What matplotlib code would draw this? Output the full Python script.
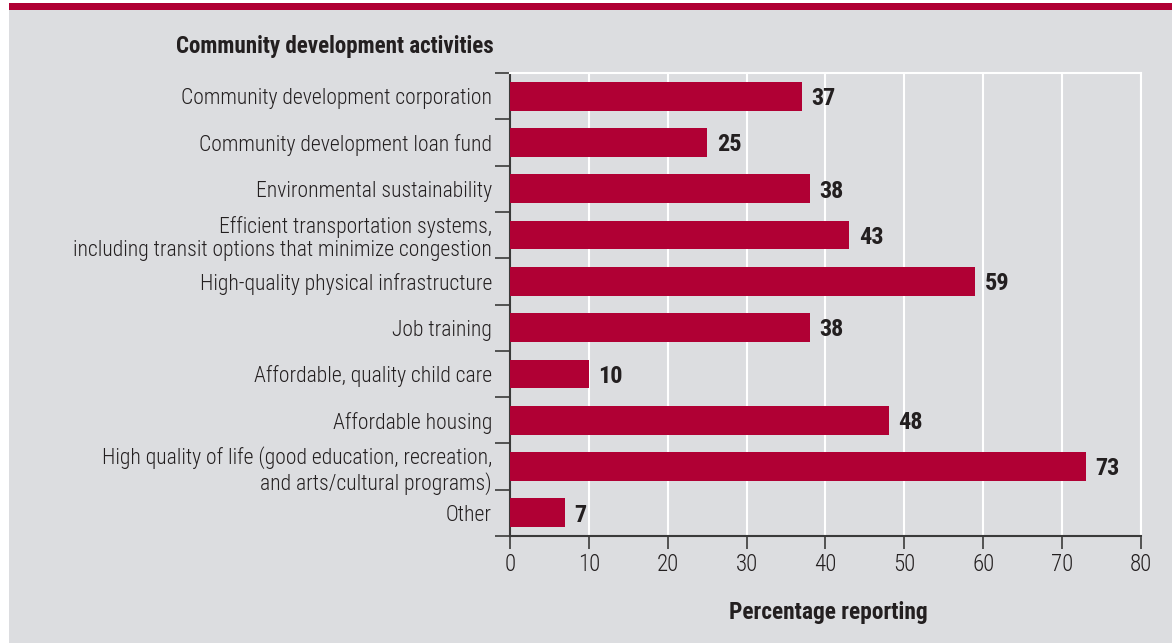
import matplotlib
matplotlib.use("Agg")
import matplotlib.pyplot as plt
from matplotlib.patches import Rectangle
from matplotlib import font_manager

categories = [
    "Community development corporation",
    "Community development loan fund",
    "Environmental sustainability",
    "Efficient transportation systems,\nincluding transit options that minimize congestion",
    "High-quality physical infrastructure",
    "Job training",
    "Affordable, quality child care",
    "Affordable housing",
    "High quality of life (good education, recreation,\nand arts/cultural programs)",
    "Other",
]
values = [37, 25, 38, 43, 59, 38, 10, 48, 73, 7]
xticks = [0, 10, 20, 30, 40, 50, 60, 70, 80]

# pick a condensed face if one exists
entries = font_manager.fontManager.ttflist
cond = [f.name for f in entries
        if ("Condensed" in f.name or "Narrow" in f.name)]
stretch_cond = [f.name for f in entries
                if str(f.stretch) in ("condensed", "semi-condensed", "extra-condensed") or
                (isinstance(f.stretch, int) and f.stretch < 500)]
fam = None
stretch = "normal"
for pref in ["Roboto Condensed", "Liberation Sans Narrow", "Open Sans Condensed", "Noto Sans Condensed"]:
    if pref in cond:
        fam = pref
        break
if fam is None and cond:
    fam = cond[0]
if fam is None and stretch_cond:
    fam = stretch_cond[0]
    stretch = "condensed"
if fam is None:
    fam = "Roboto"
plt.rcParams['font.family'] = [fam, 'DejaVu Sans']
plt.rcParams['font.stretch'] = stretch

BG = "#dcdde0"
RED = "#b00034"
TXT = "#231f20"
W, H = 1172, 643

fig = plt.figure(figsize=(W / 100, H / 100), dpi=100, facecolor=BG)
fig.patches.append(Rectangle((0, 0), 9 / W, 1, transform=fig.transFigure, facecolor="white", edgecolor="none", zorder=0))
fig.patches.append(Rectangle((0, 1 - 10 / H), 1, 10 / H, transform=fig.transFigure, facecolor="white", edgecolor="none", zorder=0))
fig.patches.append(Rectangle((9 / W, 1 - 10 / H), 1, 7 / H, transform=fig.transFigure, facecolor=RED, edgecolor="none", zorder=1))

ax = fig.add_axes([510 / W, 1 - 536 / H, (1141 - 510) / W, (536 - 73) / H])
ax.set_facecolor(BG)

pos = list(range(len(categories)))
ax.barh(pos, values, height=0.62, color=RED, zorder=3)
for p, v in zip(pos, values):
    ax.text(v + 1.2, p + 0.05, str(v), va="center", ha="left", fontsize=17.5,
            fontweight="semibold", color=TXT)

ax.set_xlim(0, 80)
ax.set_ylim(9.5, -0.44)
ax.set_xticks(xticks)
ax.set_xticklabels([str(t) for t in xticks], fontsize=16.5, color=TXT, fontweight="light")
ax.set_yticks(pos)
ax.set_yticklabels(categories, fontsize=15.6, color=TXT, linespacing=1.15, fontweight="light")
ax.tick_params(axis="y", which="major", length=0, pad=13)
ax.set_yticks([k + 0.5 for k in range(-1, len(categories))], minor=True)
ax.tick_params(axis="y", which="minor", length=11, width=1.2, color="#3a3a3a", direction="out")
ax.tick_params(axis="x", which="major", length=9, width=1.2, color="#3a3a3a", direction="out", pad=3)

ax.grid(axis="x", color="white", linewidth=1.5, zorder=1)
ax.set_axisbelow(True)
for s in ["top", "right"]:
    ax.spines[s].set_color("white")
    ax.spines[s].set_linewidth(1.5)
for s in ["left", "bottom"]:
    ax.spines[s].set_color("#3a3a3a")
    ax.spines[s].set_linewidth(1.5)

fig.text(494 / W, 1 - 46 / H, "Community development activities", ha="right", va="center",
         fontsize=16.6, fontweight="bold", color=TXT)
fig.text(828 / W, 1 - 612 / H, "Percentage reporting", ha="center", va="center",
         fontsize=16.9, fontweight="bold", color=TXT)

fig.savefig("out.png", dpi=100, facecolor=BG)
